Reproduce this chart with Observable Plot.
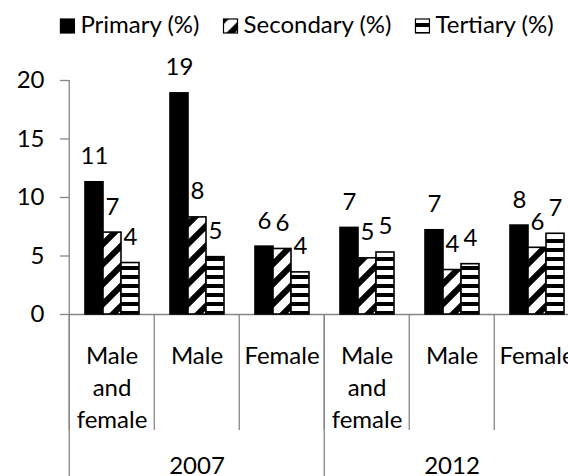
<!DOCTYPE html>
<html><head><meta charset="utf-8">
<script src="https://cdn.jsdelivr.net/npm/d3@7"></script>
<script src="https://cdn.jsdelivr.net/npm/@observablehq/plot@0.6"></script>
<style>
html,body{margin:0;padding:0;background:#fff;overflow:hidden;}
#wrap{width:568px;height:476px;overflow:hidden;position:relative;background:#fff;}
#legend svg,#chart svg{display:block;}
</style></head><body>
<svg width="0" height="0" style="position:absolute">
<defs>
<pattern id="pDiag" patternUnits="userSpaceOnUse" width="20" height="20">
 <rect width="20" height="20" fill="white"/>
 <path d="M-5,5 L5,-5 M0,20 L20,0 M15,25 L25,15" stroke="black" stroke-width="6"/>
</pattern>
<pattern id="pHoriz" patternUnits="userSpaceOnUse" width="9" height="9">
 <rect width="9" height="9" fill="white"/>
 <rect y="5" width="9" height="4" fill="black"/>
</pattern>
</defs></svg>
<div id="wrap"><div id="legend"></div><div id="chart"></div></div>
<script>
// ---- data ----
const years = ["2007", "2012"];
const groups = ["Male and female", "Male", "Female"];
const series = ["Primary (%)", "Secondary (%)", "Tertiary (%)"];
const primary   = [11.3, 18.9, 5.8, 7.4, 7.2, 7.6];
const secondary = [7.0, 8.3, 5.6, 4.8, 3.8, 5.7];
const tertiary  = [4.4, 4.9, 3.6, 5.3, 4.3, 6.9];
const yTicks = [0, 5, 10, 15, 20];

// ---- table ----
const seriesValues = [primary, secondary, tertiary];
const keys = years.flatMap(y => groups.map(g => y + "|" + g));
const rows = [];
keys.forEach((k, i) => series.forEach((s, j) => rows.push({key: k, series: s, value: seriesValues[j][i]})));

const FONT = "Lato, 'Open Sans', sans-serif";
const FS = 24;
const gray = "#868686";
const fills = ["black", "url(#pDiag)", "url(#pHoriz)"];

// ---- legend ----
const lg = d3.select("#legend").append("svg").attr("width", 568).attr("height", 45)
  .style("font-family", FONT).style("font-size", FS + "px");
const items = lg.selectAll("g").data(series).join("g");
items.append("rect").attr("x", 0).attr("y", 19).attr("width", 14).attr("height", 14)
  .attr("fill", (d, i) => fills[i]).attr("stroke", "black").attr("stroke-width", 1.2);
items.append("text").attr("x", 20).attr("y", 33).attr("fill", "black").text(d => d);
const widths = items.nodes().map(n => 20 + n.querySelector("text").getComputedTextLength());
const gap = 24;
const total = d3.sum(widths) + gap * (widths.length - 1);
let cx = 307 - total / 2;
items.attr("transform", (d, i) => { const t = `translate(${cx},0)`; cx += widths[i] + gap; return t; });

// ---- chart ----
const W = 600, ML = 67, MR = 20;
const step = (W - ML - MR) / keys.length;

const chart = Plot.plot({
  width: W, height: 431,
  marginTop: 35, marginBottom: 162, marginLeft: ML, marginRight: MR,
  style: {fontFamily: FONT, fontSize: FS + "px", color: "black", background: "white", maxWidth: "none"},
  fx: {domain: keys, padding: 0, label: null},
  x: {domain: series, paddingInner: 0, paddingOuter: 0.75, axis: null},
  y: {domain: [0, 20], label: null},
  marks: [
    Plot.gridFx({ticks: [keys[0]], dx: -step / 2, stroke: gray, strokeOpacity: 1, strokeWidth: 1.3}),
    Plot.axisY({ticks: yTicks, tickSize: 9, tickPadding: 16, stroke: gray, strokeWidth: 1.3, fill: "black", label: null, fontSize: FS}),
    Plot.ruleY([0], {stroke: gray, strokeWidth: 1.3}),
    ...series.map((s, j) => Plot.barY(rows, {
      filter: d => d.series === s, fx: "key", x: "series", y: "value",
      fill: fills[j], stroke: "black", strokeWidth: 1.6
    })),
    Plot.text(rows, {fx: "key", x: "series", y: "value", text: d => String(Math.round(d.value)),
      dy: -18, lineAnchor: "bottom", fontSize: FS, fill: "black"}),
    Plot.axisFx({anchor: "bottom", tickSize: 0, tickPadding: 27, label: null, fill: "black", fontSize: FS,
      lineHeight: 1.33, tickFormat: k => k.split("|")[1].replace(/ /g, "\n")}),
    Plot.axisFx({anchor: "bottom", tickSize: 116, fill: "none", stroke: gray, strokeWidth: 1.3, dx: -step / 2, label: null}),
    Plot.axisFx({anchor: "bottom", ticks: [keys[0], keys[3]], tickSize: 162, fill: "none", stroke: gray, strokeWidth: 1.3, dx: -step / 2, label: null}),
    Plot.axisFx({anchor: "bottom", ticks: [keys[1], keys[4]], tickSize: 0, tickPadding: 142, label: null, fill: "black", fontSize: FS,
      tickFormat: k => k.split("|")[0]})
  ]
});
document.getElementById("chart").appendChild(chart);
</script>
</body></html>
